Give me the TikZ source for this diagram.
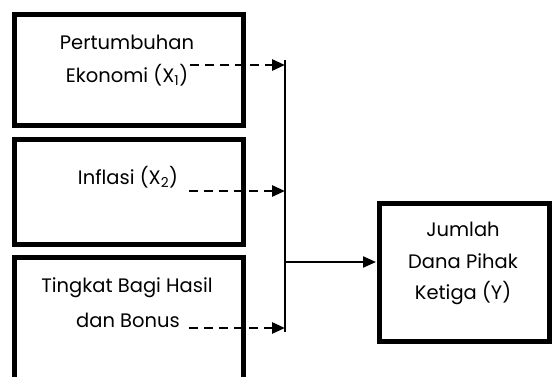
\documentclass[tikz,border=0pt]{standalone}
\usepackage{fontspec}
\setmainfont{Poppins}
\usetikzlibrary{arrows.meta}
\begin{document}
\begin{tikzpicture}[x=1pt,y=-1pt,
  box/.style={draw=black,line width=5pt},
  lbl/.style={inner sep=0pt,font=\fontsize{19.5}{32}\selectfont,align=center},
  dasharrow/.style={line width=2.8pt,dash pattern=on 9pt off 6pt,-{Triangle[length=13pt,width=11pt]}},
  solidarrow/.style={line width=2.2pt,-{Triangle[length=13pt,width=11pt]}}]
\useasboundingbox (0,0) rectangle (552,376);
\clip (0,0) rectangle (552,376);
\draw[box] (14,14) rectangle (243,125);
\draw[box] (14,139) rectangle (243,244);
\draw[box] (14,257) rectangle (243,420);
\draw[box] (379,203) rectangle (549,341);
\node[lbl] (t1a) at (127,42) {Pertumbuhan};
\node[lbl] (t1b) at (127,75) {Ekonomi (X\textsubscript{1})};
\node[lbl] (t2) at (128,177) {Inflasi (X\textsubscript{2})};
\node[lbl] (t3a) at (127,288) {Tingkat Bagi Hasil};
\node[lbl] (t3b) at (128,320) {dan Bonus};
\node[lbl] (ty1) at (463,229) {Jumlah};
\node[lbl] (ty2) at (463,261) {Dana Pihak};
\node[lbl] (ty3) at (463,293) {Ketiga (Y)};
\coordinate (s1) at (190,65);
\coordinate (s2) at (189,191);
\coordinate (s3) at (189,328);
\coordinate (v1) at (285,60);
\coordinate (v2) at (285,191);
\coordinate (v3) at (285,332);
\coordinate (vm) at (285,262);
\coordinate (ye) at (376,262);
\draw[line width=2.2pt] (v1) -- (v3);
\draw[dasharrow] (s1) -- (s1 -| v1);
\draw[dasharrow] (s2) -- (v2);
\draw[dasharrow] (s3) -- (s3 -| v1);
\draw[solidarrow] (vm) -- (ye);
\end{tikzpicture}
\end{document}
